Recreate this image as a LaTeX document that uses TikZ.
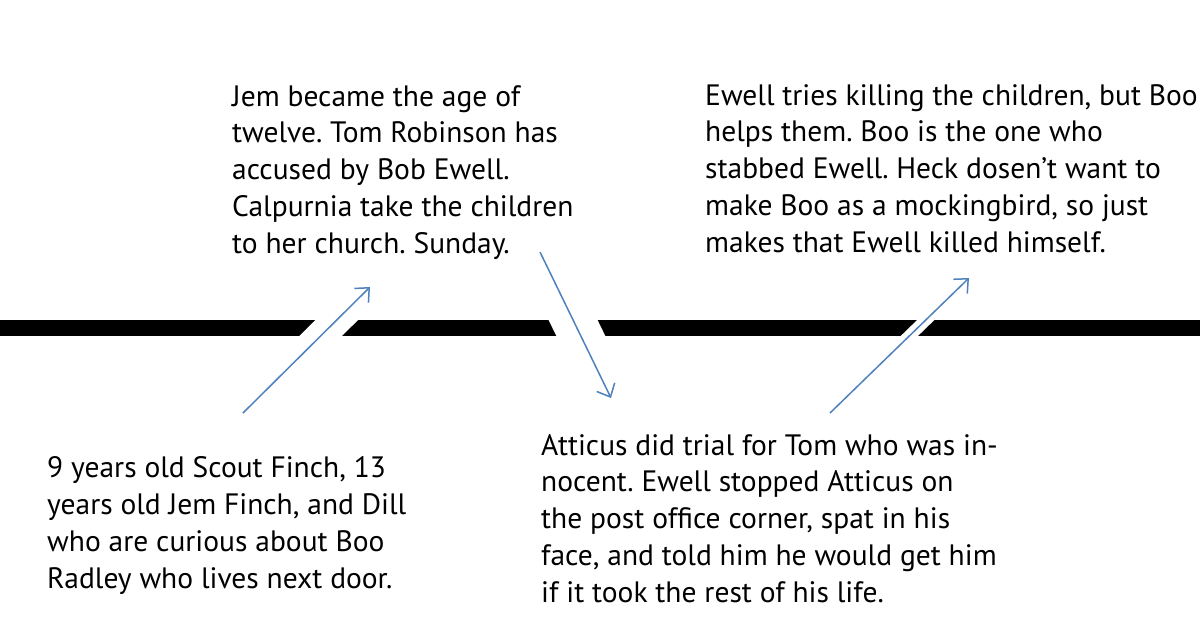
\documentclass[tikz,border=0pt]{standalone}
\usepackage{fontspec}
\newfontfamily\notefont{PT Sans}
\usetikzlibrary{arrows.meta, backgrounds}
\definecolor{arrowblue}{RGB}{79,129,189}
\frenchspacing

\begin{document}
\begin{tikzpicture}[
  x=1pt, y=-1pt,
  % Node Styles
  eventnode/.style={anchor=base west, align=left, inner sep=0pt, text=black, font=\notefont\fontsize{29.5}{36.7}\selectfont},
  % Arrow Styles
  linkarrow/.style={-{Straight Barb[length=11pt, width=20pt, line width=1.5pt]}, line width=1.5pt, arrowblue,
    preaction={draw=white, line width=#1, arrows=-}},
  timebar/.style={fill=black}
]
\useasboundingbox (0,0) rectangle (1200,630);

% events (placed by the baseline of their last line)
\node[eventnode] (jem) at (232,253) {Jem became the age of\\twelve. Tom Robinson has\\accused by Bob Ewell.\\Calpurnia take the children\\to her church. Sunday.};
\node[eventnode] (boo) at (705,252) {Ewell tries killing the children, but Boo\\helps them. Boo is the one who\\stabbed Ewell. Heck dosen’t want to\\make Boo as a mockingbird, so just\\makes that Ewell killed himself.};
\node[eventnode] (scout) at (47,588) {9 years old Scout Finch, 13\\years old Jem Finch, and Dill\\who are curious about Boo\\Radley who lives next door.};
\node[eventnode] (trial) at (541,602) {Atticus did trial for Tom who was in-\\nocent. Ewell stopped Atticus on\\the post office corner, spat in his\\face, and told him he would get him\\if it took the rest of his life.};

% arrow ends
\coordinate (scoutout) at (243,413);
\coordinate (jemin) at (370,287);
\coordinate (jemout) at (540,252);
\coordinate (trialin) at (611,398);
\coordinate (trialout) at (830,413);
\coordinate (booin) at (969,278);

\begin{scope}[on background layer]
\fill[timebar] (0,320) rectangle (1200,336);
\draw[linkarrow=30pt] (scoutout) -- (jemin);
\draw[linkarrow=44pt] (jemout) -- (trialin);
\draw[linkarrow=12pt] (trialout) -- (booin);
\end{scope}

\end{tikzpicture}
\end{document}
